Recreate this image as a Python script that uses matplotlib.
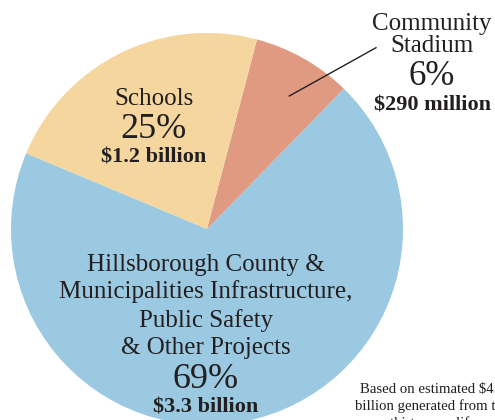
import matplotlib
matplotlib.use("Agg")
import matplotlib.pyplot as plt

# ---- data ----
categories = ["Hillsborough County & Municipalities Infrastructure, Public Safety & Other Projects",
              "Community Stadium", "Schools"]
# slice shares as drawn in the picture (percent of the circle)
slice_shares = [69.0, 8.2, 22.8]
pct_labels = ["69%", "6%", "25%"]
amount_labels = ["$3.3 billion", "$290 million", "$1.2 billion"]
colors = ["#9AC9E1", "#DF9A81", "#F4D69E"]

W, H = 495, 420
fig = plt.figure(figsize=(W / 100, H / 100), dpi=100)
ax = fig.add_axes([0, 0, 1, 1])

def Y(y):
    return H - y

ax.pie(slice_shares, colors=colors, startangle=157.3, counterclock=True,
       center=(207, Y(229)), radius=196, wedgeprops=dict(linewidth=0))
ax.set_xlim(0, W)
ax.set_ylim(0, H)
ax.set_aspect("equal")
ax.axis("off")

txt = "#231F20"
serif = "Liberation Serif"

def t(x, y, s, size, weight="normal", ha="center"):
    ax.text(x, Y(y), s, fontsize=size, fontweight=weight, ha=ha, va="baseline",
            color=txt, family=serif, clip_on=False)

# Stadium label
t(432, 30, "Community", 18)
t(432, 52, "Stadium", 18)
t(432, 85, pct_labels[1], 25)
t(432, 110, amount_labels[1], 16, "bold")
ax.plot([289.3, 376], [Y(96), Y(47.7)], color=txt, lw=1.0)

# Schools label
t(154, 105, "Schools", 18)
t(154, 138, pct_labels[2], 26)
t(154, 163, amount_labels[2], 16, "bold")

# Main label
t(206, 271, "Hillsborough County &", 18)
t(206, 298, "Municipalities Infrastructure,", 18)
t(206, 327, "Public Safety", 18)
t(206, 354, "& Other Projects", 18)
t(206, 388, pct_labels[0], 26)
t(206, 413, amount_labels[0], 16, "bold")

# Footnote (cut off at the right and bottom edges, as in the reference)
t(432, 393, "Based on estimated $4.8", 10.6)
t(432, 410, "billion generated from tax", 10.6)
t(432, 427, "over thirty-year lifespan", 10.6)

fig.savefig("out.png", dpi=100)
